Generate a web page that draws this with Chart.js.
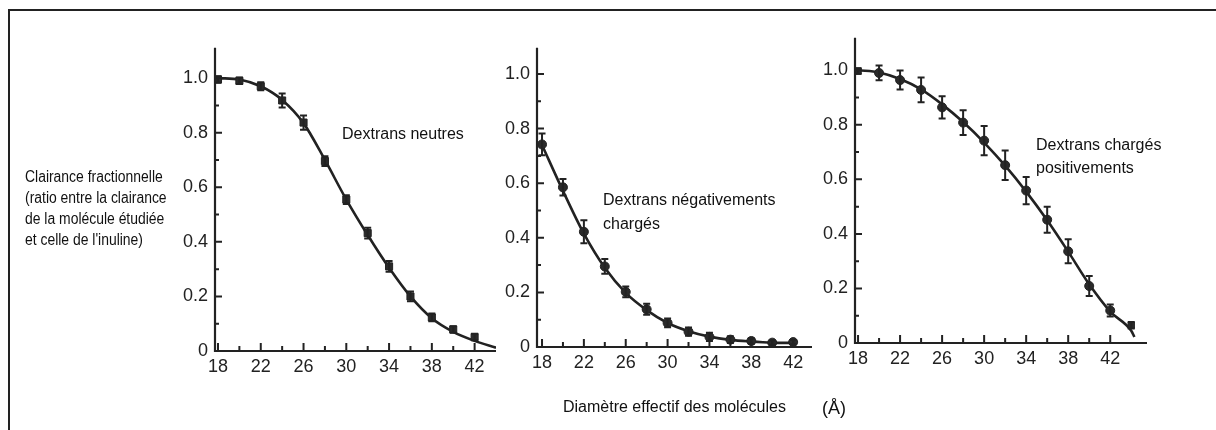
<!DOCTYPE html>
<html>
<head>
<meta charset="utf-8">
<script src="https://cdn.jsdelivr.net/npm/chart.js@4.4.1/dist/chart.umd.min.js"></script>
<style>
  html,body{margin:0;padding:0;background:#fff;}
  body{width:1216px;height:430px;overflow:hidden;position:relative;font-family:"Liberation Sans",Arial,sans-serif;color:#111;}
  #frame{position:absolute;left:8px;top:9px;width:1212px;height:430px;border-left:2px solid #222;border-top:2px solid #222;}
  .c{position:absolute;}
  .t{position:absolute;white-space:nowrap;font-size:16px;color:#111;}
</style>
</head>
<body>
<div id="frame"></div>
<canvas id="c1" class="c" style="left:140px;top:30px" width="370" height="370"></canvas>
<canvas id="c2" class="c" style="left:460px;top:30px" width="370" height="370"></canvas>
<canvas id="c3" class="c" style="left:780px;top:20px" width="390" height="370"></canvas>

<div class="t" style="left:25px;top:166px;line-height:21px;font-size:16px;transform:scaleX(0.87);transform-origin:0 0;">Clairance fractionnelle<br>(ratio entre la clairance<br>de la molécule étudiée<br>et celle de l'inuline)</div>
<div class="t" style="left:342px;top:123px;line-height:22px;">Dextrans neutres</div>
<div class="t" style="left:603px;top:188px;line-height:24px;">Dextrans négativements<br>chargés</div>
<div class="t" style="left:1036px;top:133px;line-height:23px;">Dextrans chargés<br>positivements</div>
<div class="t" style="left:563px;top:396px;line-height:22px;">Diamètre effectif des molécules</div>
<div class="t" style="left:822px;top:396px;line-height:24px;font-size:18px;">(Å)</div>

<script>
// ---- tick values / labels ----
const xTickValues = [18, 22, 26, 30, 34, 38, 42];
const xMinorTicks = [20, 24, 28, 32, 36, 40];
const yTickValues = [0, 0.2, 0.4, 0.6, 0.8, 1.0];
const yTickLabels = ['0', '0.2', '0.4', '0.6', '0.8', '1.0'];
const yMinorTicks = [0.1, 0.3, 0.5, 0.7, 0.9];

// ---- Dextrans neutres ----
const neutralX   = [18, 20, 22, 24, 26, 28, 30, 32, 34, 36, 38, 40, 42];
const neutralY   = [0.995, 0.99, 0.97, 0.918, 0.837, 0.696, 0.555, 0.432, 0.31, 0.2, 0.123, 0.079, 0.051];
const neutralErr = [0.012, 0.012, 0.015, 0.026, 0.026, 0.018, 0.016, 0.02, 0.02, 0.018, 0.014, 0.012, 0.012];
const neutralCurveX = [18, 20, 22, 24, 26, 28, 30, 32, 34, 36, 38, 40, 42, 44];
const neutralCurveY = [1.0, 0.995, 0.97, 0.92, 0.835, 0.70, 0.555, 0.425, 0.305, 0.2, 0.12, 0.07, 0.037, 0.012];

// ---- Dextrans négativement chargés ----
const negX   = [18, 20, 22, 24, 26, 28, 30, 32, 34, 36, 38, 40, 42];
const negY   = [0.742, 0.585, 0.422, 0.295, 0.202, 0.138, 0.088, 0.056, 0.037, 0.027, 0.022, 0.016, 0.018];
const negErr = [0.04, 0.03, 0.042, 0.027, 0.02, 0.02, 0.016, 0.015, 0.015, 0.012, 0.01, 0.008, 0.008];
const negCurveX = [18, 20, 22, 24, 26, 28, 30, 32, 34, 36, 38, 40, 42];
const negCurveY = [0.74, 0.572, 0.415, 0.29, 0.198, 0.135, 0.088, 0.058, 0.038, 0.026, 0.02, 0.016, 0.015];

// ---- Dextrans chargés positivement ----
const posX   = [18, 20, 22, 24, 26, 28, 30, 32, 34, 36, 38, 40, 42, 44];
const posY   = [0.997, 0.99, 0.964, 0.928, 0.864, 0.808, 0.742, 0.652, 0.559, 0.452, 0.336, 0.209, 0.119, 0.065];
const posErr = [0.01, 0.027, 0.035, 0.045, 0.041, 0.045, 0.054, 0.054, 0.05, 0.048, 0.044, 0.037, 0.022, 0.012];
const posCurveX = [18, 20, 22, 24, 26, 28, 30, 32, 34, 36, 38, 40, 42, 44, 44.3];
const posCurveY = [1.0, 0.992, 0.968, 0.93, 0.875, 0.81, 0.735, 0.65, 0.555, 0.45, 0.335, 0.215, 0.115, 0.045, 0.022];

const INK = '#222';
const FONT = {family: '"Liberation Sans", Arial, sans-serif', size: 18};

const axisPlugin = {
  id: 'sketchAxes',
  afterDatasetsDraw(chart, args, opts) {
    const {ctx, chartArea: a, scales: {x, y}} = chart;
    ctx.save();
    ctx.strokeStyle = INK;
    ctx.lineCap = 'butt';
    // error bars
    ctx.lineWidth = 2;
    opts.ex.forEach((xv, i) => {
      const px = x.getPixelForValue(xv);
      const top = y.getPixelForValue(opts.ey[i] + opts.ee[i]);
      const bot = y.getPixelForValue(opts.ey[i] - opts.ee[i]);
      ctx.beginPath();
      ctx.moveTo(px, top); ctx.lineTo(px, bot);
      ctx.moveTo(px - 3.5, top); ctx.lineTo(px + 3.5, top);
      ctx.moveTo(px - 3.5, bot); ctx.lineTo(px + 3.5, bot);
      ctx.stroke();
    });
    // axes
    ctx.lineWidth = 2.2;
    ctx.beginPath();
    ctx.moveTo(a.left, a.top);
    ctx.lineTo(a.left, a.bottom);
    ctx.lineTo(a.right, a.bottom);
    ctx.stroke();
    // inward ticks
    ctx.lineWidth = 2;
    ctx.beginPath();
    xTickValues.forEach(v => { const p = x.getPixelForValue(v); ctx.moveTo(p, a.bottom); ctx.lineTo(p, a.bottom - 8); });
    xMinorTicks.forEach(v => { const p = x.getPixelForValue(v); ctx.moveTo(p, a.bottom); ctx.lineTo(p, a.bottom - 5); });
    yTickValues.forEach(v => { if (v === 0) return; const p = y.getPixelForValue(v); ctx.moveTo(a.left, p); ctx.lineTo(a.left + 7, p); });
    yMinorTicks.forEach(v => { const p = y.getPixelForValue(v); ctx.moveTo(a.left, p); ctx.lineTo(a.left + 4, p); });
    ctx.stroke();
    ctx.restore();
  }
};

function makeChart(id, cfg) {
  const pts = cfg.px.map((v, i) => ({x: v, y: cfg.py[i]}));
  const curve = cfg.cx.map((v, i) => ({x: v, y: cfg.cy[i]}));
  return new Chart(document.getElementById(id), {
    type: 'scatter',
    data: {
      datasets: [
        {data: curve, showLine: true, borderColor: INK, borderWidth: 2.6, pointRadius: 0,
         cubicInterpolationMode: 'monotone', fill: false, order: 2},
        {data: pts, showLine: false, pointStyle: cfg.pointStyle, pointRadius: cfg.radius,
         backgroundColor: '#2a2a2a', borderColor: INK, borderWidth: 1, order: 1}
      ]
    },
    options: {
      responsive: false,
      animation: false,
      devicePixelRatio: 1,
      layout: {padding: {top: cfg.padTop, right: cfg.padRight, left: 0, bottom: 0}},
      plugins: {
        legend: {display: false},
        tooltip: {enabled: false},
        sketchAxes: {ex: cfg.px, ey: cfg.py, ee: cfg.pe}
      },
      scales: {
        x: {
          type: 'linear', min: cfg.xmin, max: cfg.xmax,
          grid: {display: false, drawTicks: false},
          border: {display: false},
          afterBuildTicks: s => { s.ticks = xTickValues.map(v => ({value: v})); },
          afterFit: s => { s.height = cfg.xh; },
          ticks: {padding: 5, color: INK, font: FONT, maxRotation: 0, autoSkip: false,
                  callback: v => String(v)}
        },
        y: {
          type: 'linear', min: 0, max: cfg.ymax,
          grid: {display: false, drawTicks: false},
          border: {display: false},
          afterBuildTicks: s => { s.ticks = yTickValues.map(v => ({value: v})); },
          afterFit: s => { s.width = cfg.yw; },
          ticks: {padding: 7, color: INK, font: FONT, autoSkip: false,
                  callback: v => { const i = yTickValues.findIndex(t => Math.abs(t - v) < 1e-6); return i >= 0 ? yTickLabels[i] : ''; }}
        }
      }
    },
    plugins: [axisPlugin]
  });
}

makeChart('c1', {px: neutralX, py: neutralY, pe: neutralErr, cx: neutralCurveX, cy: neutralCurveY,
  pointStyle: 'rect', radius: 5, xmin: 17.72, xmax: 44, ymax: 1.111,
  yw: 75, xh: 49, padTop: 10, padRight: 14});
makeChart('c2', {px: negX, py: negY, pe: negErr, cx: negCurveX, cy: negCurveY,
  pointStyle: 'circle', radius: 4.5, xmin: 17.52, xmax: 43.8, ymax: 1.096,
  yw: 77, xh: 53, padTop: 10, padRight: 18});
makeChart('c3', {px: posX, py: posY, pe: posErr, cx: posCurveX, cy: posCurveY,
  pointStyle: ctx => (ctx.dataIndex === 0 || ctx.dataIndex === 13) ? 'rect' : 'circle', radius: 4.5, xmin: 17.71, xmax: 45.5, ymax: 1.119,
  yw: 75, xh: 47, padTop: 12, padRight: 23});
</script>
</body>
</html>
